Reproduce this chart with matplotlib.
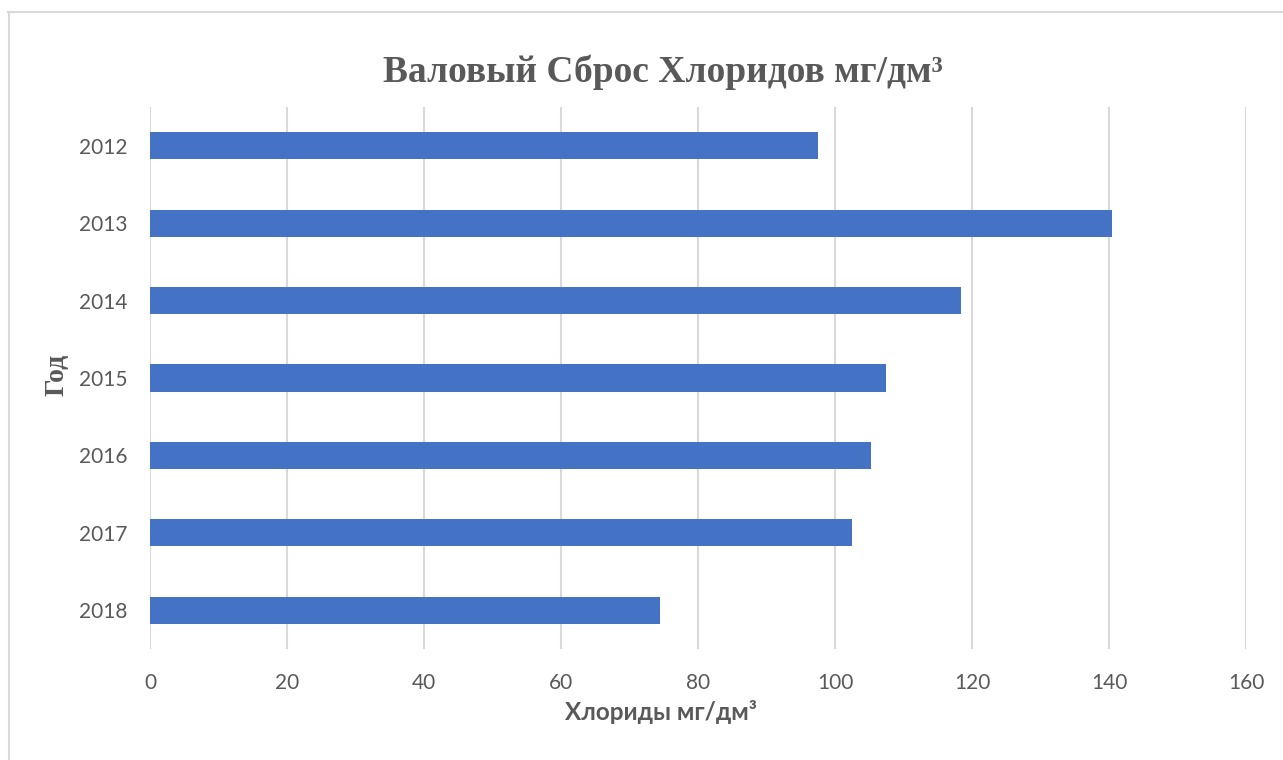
import matplotlib
matplotlib.use("Agg")
import matplotlib.pyplot as plt
from matplotlib.lines import Line2D

# Chloride discharge by year
years = ["2012", "2013", "2014", "2015", "2016", "2017", "2018"]
chlorides = [97.5, 140.5, 118.4, 107.4, 105.2, 102.5, 74.4]
x_ticks = [0, 20, 40, 60, 80, 100, 120, 140, 160]

W, H = 1283, 760
fig = plt.figure(figsize=(W / 100, H / 100), dpi=100)
fig.patch.set_facecolor("white")

# plot area in pixel coordinates
left, right, top, bottom = 150, 1246, 107, 649
ax = fig.add_axes([left / W, 1 - bottom / H, (right - left) / W, (bottom - top) / H])

text_grey = "#595959"
grid_grey = "#D9D9D9"
bar_blue = "#4472C4"

pos = list(range(len(years)))
ax.barh(pos, chlorides, height=0.35, color=bar_blue, zorder=3)
ax.set_ylim(len(years) - 0.5, -0.5)
ax.set_yticks(pos)
ax.set_yticklabels(years, fontsize=15, color=text_grey, family="Lato")

ax.set_xlim(0, 160)
ax.set_xticks(x_ticks)
ax.set_xticklabels([str(v) for v in x_ticks], fontsize=15, color=text_grey, family="Lato")
ax.tick_params(axis="both", length=0)
ax.tick_params(axis="x", pad=17)
ax.tick_params(axis="y", pad=16)

ax.grid(axis="x", color=grid_grey, linewidth=1.5, zorder=0)
for s in ax.spines.values():
    s.set_visible(False)

# axis titles
fig.text(661 / W, 1 - 712 / H, "Хлориды мг/дм³", ha="center", va="center",
         fontsize=17.5, fontweight="bold", color=text_grey, family="Lato")
fig.text(57 / W, 1 - 375 / H, "Год", ha="center", va="center", rotation=90,
         fontsize=20, fontweight="bold", color=text_grey, family="Liberation Serif")

fig.text(663 / W, 1 - 72 / H, "Валовый Сброс Хлоридов мг/дм³", ha="center", va="center",
         fontsize=27, fontweight="bold", color=text_grey, family="Liberation Serif")

# chart frame
fig.add_artist(Line2D([8 / W, 1.0], [1 - 11.5 / H, 1 - 11.5 / H], color=grid_grey,
                      linewidth=1.5, transform=fig.transFigure))
fig.add_artist(Line2D([8.5 / W, 8.5 / W], [0, 1 - 11.5 / H], color=grid_grey,
                      linewidth=1.5, transform=fig.transFigure))

fig.savefig("out.png", dpi=100, facecolor="white")
